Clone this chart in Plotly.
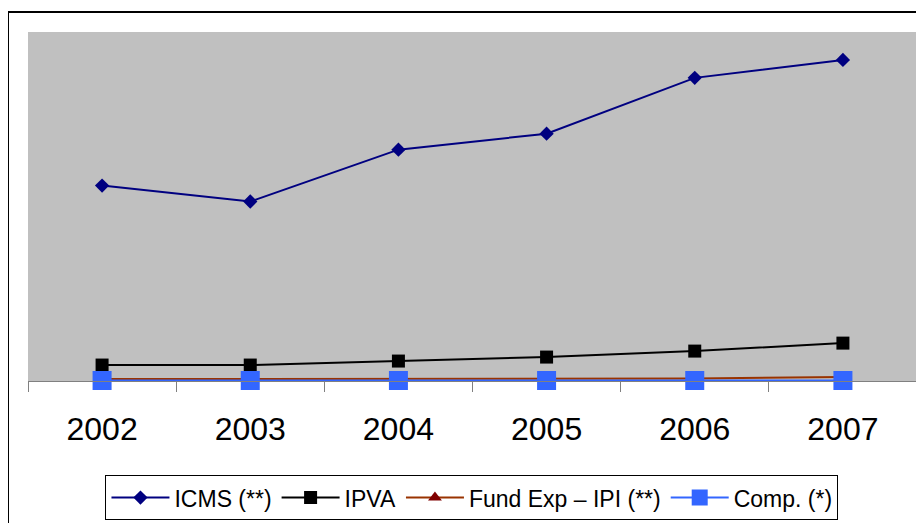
import plotly.graph_objects as go

years = ["2002", "2003", "2004", "2005", "2006", "2007"]
icms = [1960, 1800, 2320, 2480, 3040, 3220]
ipva = [160, 160, 200, 240, 300, 380]
fund = [20, 20, 20, 22, 25, 40]
comp = [5, 5, 5, 5, 5, 5]

FONT = "Arial, Liberation Sans, sans-serif"

fig = go.Figure()
fig.add_trace(go.Scatter(x=years, y=icms, name="ICMS (**)", mode="lines+markers",
                         line=dict(color="#000080", width=2),
                         marker=dict(symbol="diamond", size=11, color="#000080"),
                         cliponaxis=False))
fig.add_trace(go.Scatter(x=years, y=ipva, name="IPVA", mode="lines+markers",
                         line=dict(color="#000000", width=2),
                         marker=dict(symbol="square", size=13, color="#000000"),
                         cliponaxis=False))
fig.add_trace(go.Scatter(x=years, y=fund, name="Fund Exp – IPI (**)", mode="lines+markers",
                         line=dict(color="#993300", width=2),
                         marker=dict(symbol="triangle-up", size=12, color="#800000"),
                         cliponaxis=False))
fig.add_trace(go.Scatter(x=years, y=comp, name="Comp. (*)", mode="lines+markers",
                         line=dict(color="#3366FF", width=2),
                         marker=dict(symbol="square", size=19, color="#3366FF"),
                         cliponaxis=False))

fig.update_layout(
    width=924, height=523,
    margin=dict(l=20, r=15, t=24, b=149),
    paper_bgcolor="white", plot_bgcolor="#C0C0C0",
    font=dict(family=FONT, color="black"),
    showlegend=True,
    legend=dict(orientation="h", x=0.4994, xanchor="center", y=-0.266, yanchor="top",
                bordercolor="black", borderwidth=1, bgcolor="white",
                font=dict(size=23, family=FONT), itemwidth=58,
                tracegroupgap=0),
    xaxis=dict(type="category", tickson="boundaries", ticks="outside", ticklen=10,
               tickcolor="#808080", showline=True, linecolor="#808080", linewidth=1,
               showgrid=False, tickfont=dict(size=32, family=FONT),
               ticklabelstandoff=20, range=[-0.5, 5.5]),
    yaxis=dict(range=[0, 3500], showticklabels=False, showgrid=False, zeroline=False,
               ticks="", showline=False),
    shapes=[dict(type="rect", xref="paper", yref="paper",
                 x0=(0 - 20) / 889, x1=1.2, y0=-0.6, y1=1 + (24 - 4) / 350,
                 line=dict(color="black", width=2), fillcolor="rgba(0,0,0,0)",
                 layer="below")],
)

fig.write_html("out.html")
